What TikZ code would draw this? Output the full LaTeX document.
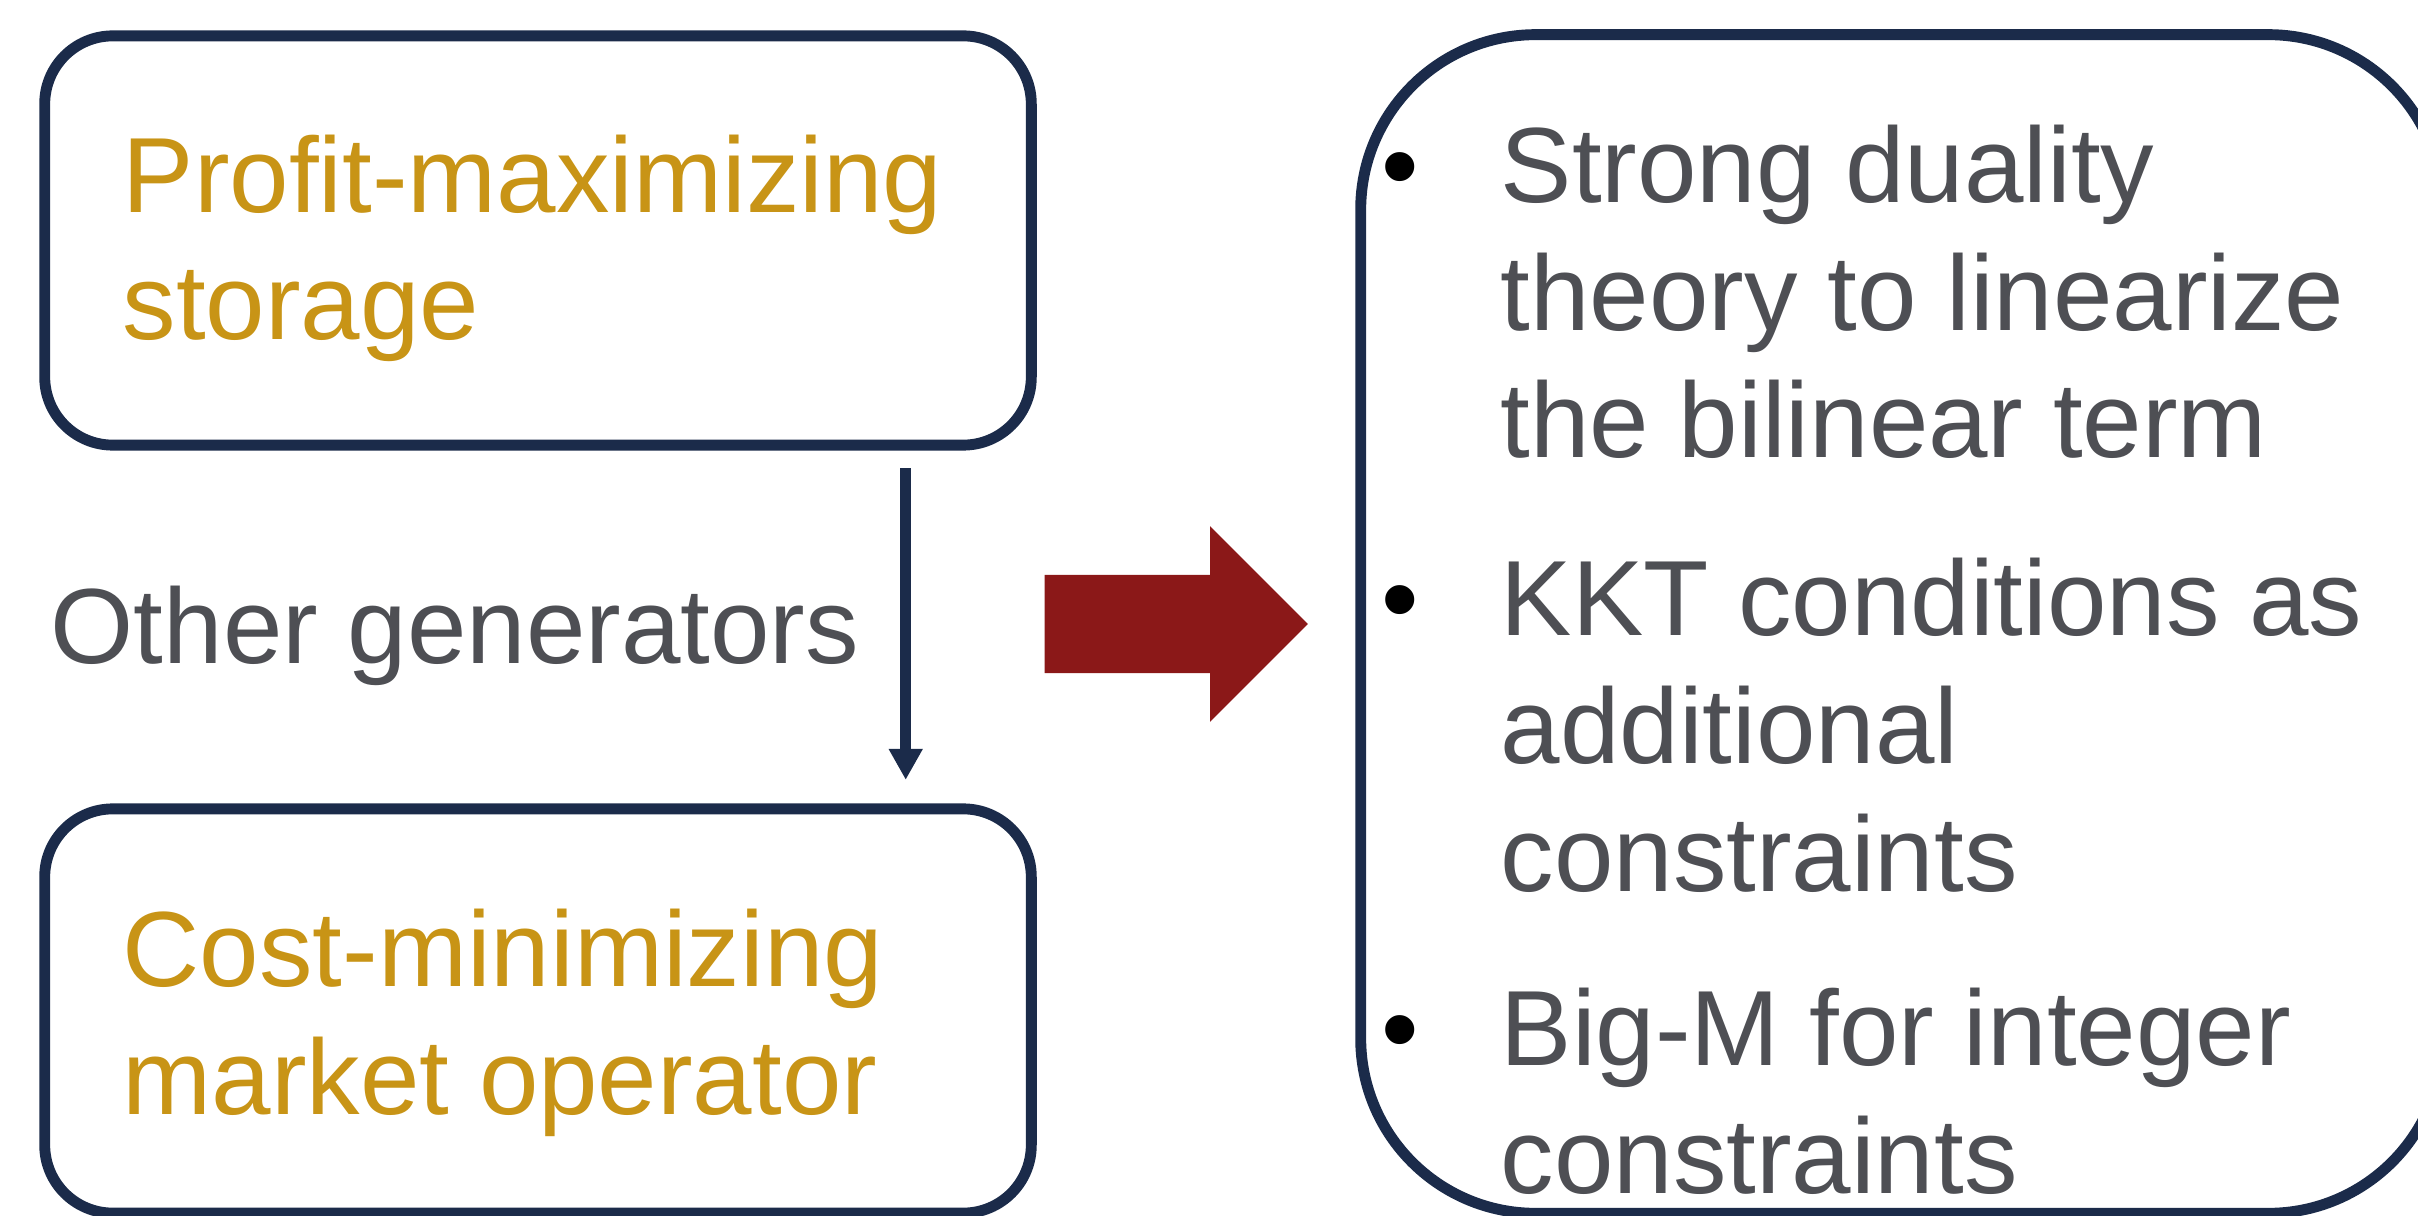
\documentclass[tikz,border=0pt]{standalone}
\usepackage{fontspec}
\setmainfont{Liberation Sans}
\usetikzlibrary{arrows.meta,shapes.arrows}
\definecolor{navy}{RGB}{27,43,74}
\definecolor{gold}{RGB}{200,148,22}
\definecolor{slate}{RGB}{78,79,84}
\definecolor{brick}{RGB}{139,24,24}
\newcommand{\bigtext}{\fontsize{30.4pt}{36.3pt}\selectfont}
\newcommand{\dotitem}{\llap{\textcolor{black}{\textbullet}\hspace{0.82cm}}}

\begin{document}
\begin{tikzpicture}[x=0.01cm,y=-0.01cm,
    panel/.style={draw=navy,line width=3.1pt,outer sep=0pt,inner sep=0pt},
    label/.style={font=\bigtext,align=left,inner sep=0pt,anchor=base west},
    flow/.style={draw=navy,line width=3.05pt,-{Triangle[length=0.31cm,width=0.32cm]}}]
    \useasboundingbox (0,0) rectangle (2418,1216);
    \clip (0,0) rectangle (2418,1216);
    % the two problems on the left (labels sit on their last baseline)
    \node[panel,rounded corners=0.68cm,minimum width=9.86cm,minimum height=4.09cm] (topbox) at (538,240.5) {};
    \node[panel,rounded corners=0.68cm,minimum width=9.86cm,minimum height=4.04cm] (botbox) at (538,1011) {};
    \node[label,text=gold] (toptext) at (122,340) {Profit-maximizing\\storage};
    \node[label,text=gold] (bottext) at (122,1114) {Cost-minimizing\\market operator};
    \node[label,text=slate] (others) at (50,664) {Other generators};
    \draw[flow,shorten <=0.23cm,shorten >=0.29cm] ([xshift=3.675cm]topbox.south) -- ([xshift=3.675cm]botbox.north);
    % big arrow
    \node[single arrow,fill=brick,inner xsep=0pt,inner ysep=0.485cm,minimum height=2.63cm,
          single arrow head extend=0.485cm,single arrow tip angle=90,anchor=tail] (implies) at (1044,624) {};
    % methods on the right
    \node[panel,rounded corners=1.75cm,minimum width=10.82cm,minimum height=11.78cm] (methods) at (1902,624) {};
    \node[label,text=slate] (duality) at (1500,458) {\dotitem Strong duality\\theory to linearize\\the bilinear term};
    \node[label,text=slate] (kkt) at (1500,891) {\dotitem KKT conditions as\\additional\\constraints};
    \node[label,text=slate] (bigm) at (1500,1193) {\dotitem Big-M for integer\\constraints};
\end{tikzpicture}
\end{document}
